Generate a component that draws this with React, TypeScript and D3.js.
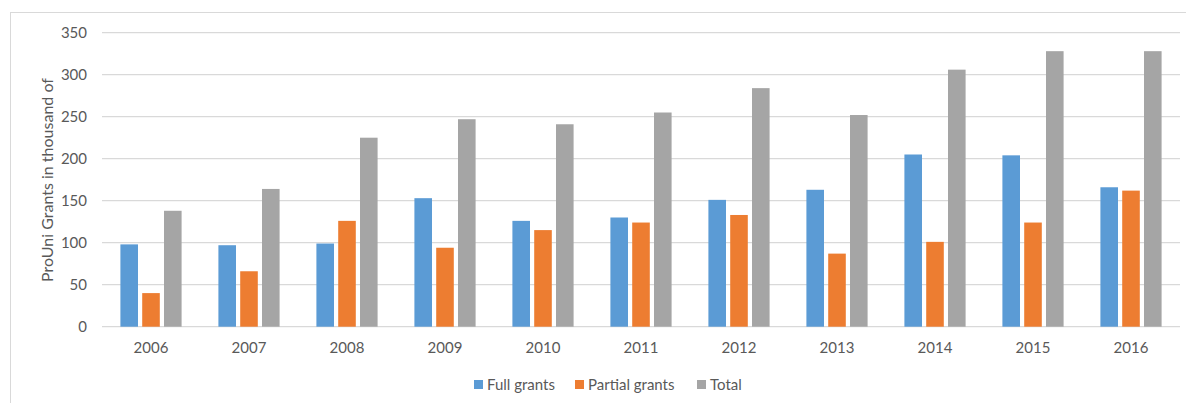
import * as d3 from "d3";
import React, { useEffect, useRef } from "react";

const years = ["2006", "2007", "2008", "2009", "2010", "2011", "2012", "2013", "2014", "2015", "2016"];
const fullGrants = [98, 97, 99, 153, 126, 130, 151, 163, 205, 204, 166];
const partialGrants = [40, 66, 126, 94, 115, 124, 133, 87, 101, 124, 162];
const totalGrants = [138, 164, 225, 247, 241, 255, 284, 252, 306, 328, 328];
const seriesNames = ["Full grants", "Partial grants", "Total"];
const yTicks = [0, 50, 100, 150, 200, 250, 300, 350];

const colors = ["#5b9bd5", "#ed7d31", "#a5a5a5"];
const font = "Lato, 'Open Sans', sans-serif";
const textColor = "#595959";

function App() {
  const ref = useRef(null);

  useEffect(() => draw(), []);

  function draw() {
    const width = 1186;
    const height = 403;

    d3.select(ref.current).selectAll("svg").remove();

    const svg = d3
      .select(ref.current)
      .append("svg")
      .attr("width", width)
      .attr("height", height)
      .style("display", "block")
      .style("background", "#fff");

    // outer chart frame
    svg
      .append("rect")
      .attr("x", 10.5)
      .attr("y", 12.5)
      .attr("width", width + 20)
      .attr("height", height + 20)
      .attr("fill", "none")
      .attr("stroke", "#d9d9d9")
      .attr("stroke-width", 1);

    const x = d3.scaleBand().domain(years).range([102, 1180]).padding(0);
    const inner = d3
      .scaleBand()
      .domain(seriesNames)
      .range([0, x.bandwidth()])
      .paddingInner(0.193)
      .paddingOuter(0.844);
    const y = d3.scaleLinear().domain([0, 350]).range([326.7, 32.7]);

    // gridlines
    svg
      .append("g")
      .selectAll("line")
      .data(yTicks)
      .enter()
      .append("line")
      .attr("x1", 102)
      .attr("x2", 1180)
      .attr("y1", (d) => y(d))
      .attr("y2", (d) => y(d))
      .attr("stroke", "#d9d9d9")
      .attr("stroke-width", 1.3);

    // y tick labels
    svg
      .append("g")
      .selectAll("text")
      .data(yTicks)
      .enter()
      .append("text")
      .attr("x", 87)
      .attr("y", (d) => y(d))
      .attr("dy", "0.35em")
      .attr("text-anchor", "end")
      .attr("font-family", font)
      .attr("font-size", 15)
      .attr("fill", textColor)
      .text((d) => d);

    const seriesData = [fullGrants, partialGrants, totalGrants];

    seriesData.forEach((vals, i) => {
      svg
        .append("g")
        .selectAll("rect")
        .data(vals)
        .enter()
        .append("rect")
        .attr("x", (d, j) => x(years[j]) + inner(seriesNames[i]))
        .attr("y", (d) => y(d))
        .attr("width", inner.bandwidth())
        .attr("height", (d) => y(0) - y(d))
        .attr("fill", colors[i]);
    });

    // x labels
    svg
      .append("g")
      .selectAll("text")
      .data(years)
      .enter()
      .append("text")
      .attr("x", (d) => x(d) + x.bandwidth() / 2)
      .attr("y", 348)
      .attr("dy", "0.35em")
      .attr("text-anchor", "middle")
      .attr("font-family", font)
      .attr("font-size", 15)
      .attr("fill", textColor)
      .text((d) => d);

    // y axis title
    svg
      .append("text")
      .attr("transform", "translate(47,180) rotate(-90)")
      .attr("dy", "0.35em")
      .attr("text-anchor", "middle")
      .attr("font-family", font)
      .attr("font-size", 16)
      .attr("fill", textColor)
      .text("ProUni Grants in thousand of");

    // legend
    const legendX = [474, 575, 697];
    const legend = svg
      .append("g")
      .selectAll("g")
      .data(seriesNames)
      .enter()
      .append("g")
      .attr("transform", (d, i) => `translate(${legendX[i]},380)`);
    legend
      .append("rect")
      .attr("width", 9)
      .attr("height", 9)
      .attr("fill", (d, i) => colors[i]);
    legend
      .append("text")
      .attr("x", 13)
      .attr("y", 4.5)
      .attr("dy", "0.35em")
      .attr("font-family", font)
      .attr("font-size", 15)
      .attr("fill", textColor)
      .text((d) => d);
  }

  return (
    <div
      style={{ position: "absolute", left: 0, top: 0, margin: 0 }}
      ref={ref}
    />
  );
}

export default App;
